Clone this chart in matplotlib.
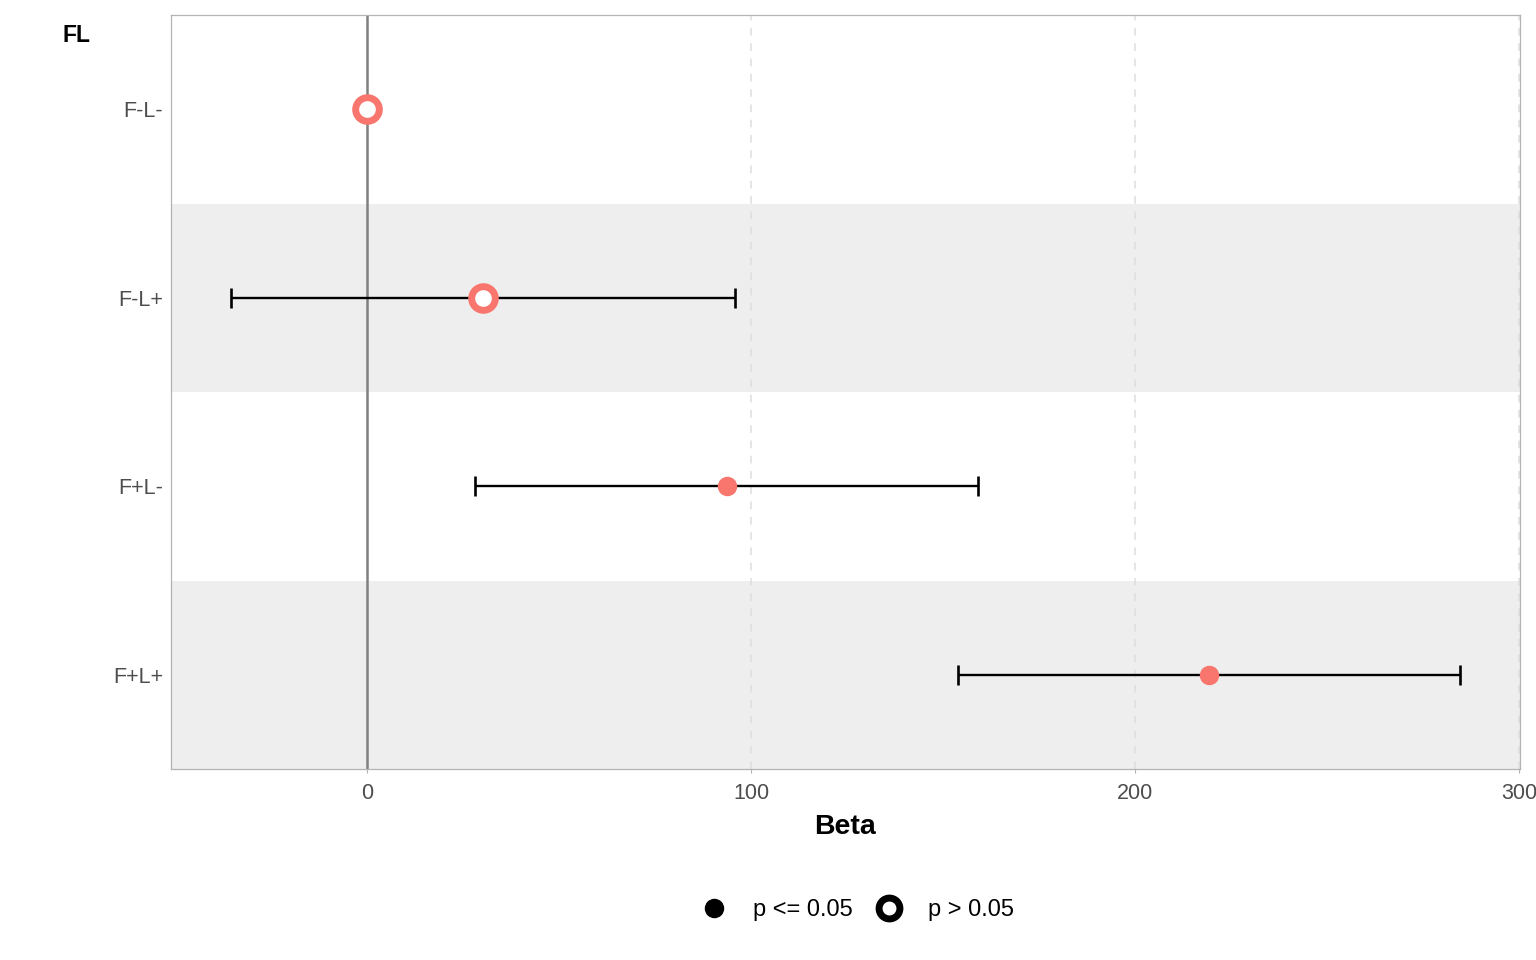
import matplotlib
matplotlib.use("Agg")
import matplotlib.pyplot as plt
from matplotlib.lines import Line2D
import numpy as np

plt.rcParams['font.family'] = ['Liberation Sans', 'DejaVu Sans']

categories = ["F-L-", "F-L+", "F+L-", "F+L+"]
beta = [0.0, 30.0, 93.7, 219.3]
ci_low = [np.nan, -35.6, 28.0, 153.9]
ci_high = [np.nan, 95.8, 159.1, 284.7]
significant = [False, False, True, True]
x_ticks = [0, 100, 200, 300]

color = "#F8766D"

fig = plt.figure(figsize=(15.36, 9.6), dpi=100)
ax = fig.add_axes([171/1536, 1-769/960, (1520-171)/1536, (769-15)/960])

n = len(categories)
ypos = np.arange(1, n + 1)

# alternating bands
for i, y in enumerate(ypos):
    if i % 2 == 1:
        ax.axhspan(y - 0.5, y + 0.5, color="#eeeeee", zorder=0, lw=0)

for x in x_ticks[1:]:
    ax.axvline(x, color="#dedede", lw=1.1, ls=(0, (5, 5)), zorder=1)
ax.axvline(0, color="#808080", lw=1.8, zorder=2)

for y, b, lo, hi, sig in zip(ypos, beta, ci_low, ci_high, significant):
    if not np.isnan(lo):
        ax.errorbar([b], [y], xerr=[[b - lo], [hi - b]], fmt="none", ecolor="black",
                    elinewidth=1.7, capsize=7, capthick=1.9, zorder=3)
    if sig:
        ax.plot([b], [y], "o", ms=13, color=color, mec=color, zorder=4)
    else:
        ax.plot([b], [y], "o", ms=17, mfc="white", mec=color, mew=5, zorder=4)

ax.set_xlim(-51.2, 300.3)
ax.set_ylim(n + 0.5, 0.5)
ax.set_yticks(ypos)
ax.set_yticklabels(categories)
ax.set_xticks(x_ticks)
ax.set_xticklabels([str(t) for t in x_ticks])
ax.tick_params(axis="y", length=0, pad=5.5, labelsize=15.5, labelcolor="#4d4d4d")
ax.tick_params(axis="x", length=3, width=0.8, color="#b3b3b3", pad=7, labelsize=15.5, labelcolor="#4d4d4d")
for s in ax.spines.values():
    s.set_color("#b3b3b3")
    s.set_linewidth(0.9)

ax.set_xlabel("Beta", fontsize=20.5, fontweight="bold", labelpad=7)
fig.text(77/1536, 1-36/960, "FL", fontsize=16.5, fontweight="bold", ha="center", va="center")

handles = [
    Line2D([], [], ls="none", marker="o", ms=13, color="black"),
    Line2D([], [], ls="none", marker="o", ms=15, mfc="white", mec="black", mew=5),
]
fig.legend(handles, ["p <= 0.05", "p > 0.05"], loc="center", bbox_to_anchor=(858/1536, 1-910/960),
           ncol=2, frameon=False, fontsize=17, handlelength=1.0, handletextpad=1.16,
           columnspacing=1.05, borderpad=0, borderaxespad=0)

fig.savefig("out.png", dpi=100)
